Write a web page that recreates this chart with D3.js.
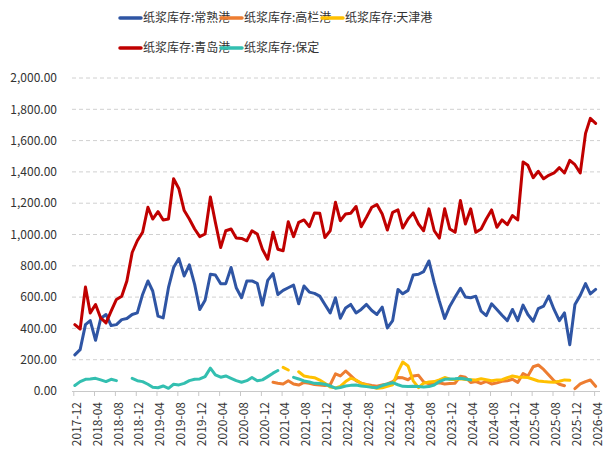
<!DOCTYPE html>
<html lang="zh">
  <head>
    <meta charset="UTF-8" />
    <title>纸浆库存</title>
    <script src="https://d3js.org/d3.v7.min.js"></script>
    <style>
      body { margin: 0; background: #fff; }
      text { font-family: "Noto Sans CJK SC", "Liberation Sans", sans-serif; }
    </style>
  </head>

  <body>
    <svg width="603" height="464"></svg>

    <script>
      // monthly data, 2017-12 .. 2026-04
      const firstMonth = new Date(2017, 11, 1);
      const lastMonth = new Date(2026, 3, 1);

      const seriesNames = [
        "纸浆库存:常熟港",
        "纸浆库存:高栏港",
        "纸浆库存:天津港",
        "纸浆库存:青岛港",
        "纸浆库存:保定"
      ];
      const seriesColors = ["#2f55a4", "#ed7d31", "#ffc000", "#c00000", "#33bfb0"];

      const changshu = [
        231, 264, 424, 450, 324, 463, 489, 418, 424, 456,
        463, 489, 499, 617, 703, 639, 478, 467, 660, 789,
        846, 735, 806, 681, 521, 580, 746, 741, 686, 686,
        789, 660, 596, 703, 703, 688, 549, 707, 750, 617,
        643, 660, 677, 557, 671, 632, 624, 606, 553, 499,
        596, 465, 531, 553, 499, 521, 553, 514, 489, 536,
        403, 450, 649, 621, 643, 741, 746, 763, 831, 692,
        574, 463, 542, 600, 656, 600, 596, 606, 510, 482,
        557, 521, 484, 450, 521, 450, 549, 489, 446, 527,
        542, 606, 521, 450, 499, 296, 553, 611, 686, 621,
        649
      ];

      const gaolan = [
        null, null, null, null, null, null, null, null, null, null,
        null, null, null, null, null, null, null, null, null, null,
        null, null, null, null, null, null, null, null, null, null,
        null, null, null, null, null, null, null, null, 56, 50,
        45, 66, 45, 38, 55, 50, 42, 38, 35, 40,
        110, 96, 128, 98, 66, 50, 42, 35, 30, 38,
        45, 60, 87, 84, 72, 96, 100, 58, 45, 48,
        52, 45, 48, 50, 94, 88, 55, 60, 48, 62,
        45, 52, 62, 65, 75, 55, 112, 95, 155, 166,
        138, 102, 66, 43, 34, null, 15, 45, 60, 70,
        30
      ];

      const tianjin = [
        null, null, null, null, null, null, null, null, null, null,
        null, null, null, null, null, null, null, null, null, null,
        null, null, null, null, null, null, null, null, null, null,
        null, null, null, null, null, null, null, null, null, null,
        151, 134, null, 123, 96, 90, 85, 70, 50, 25,
        20, 30, 60, 82, 70, 49, 39, 25, 17, 20,
        30, 40, 124, 185, 160, 65, 22, 50, 58, 60,
        71, 86, 75, 72, 78, 74, 72, 70, 78, 72,
        65, 70, 72, 85, 96, 90, 88, 86, 75, 64,
        60, 58, 56, 62, 71, 68, null, null, null, null,
        null
      ];

      const qingdao = [
        424, 396, 664, 499, 553, 467, 435, 510, 585, 606,
        703, 885, 960, 1014, 1174, 1099, 1146, 1093, 1099, 1356,
        1292, 1153, 1099, 1035, 986, 1003, 1239, 1078, 917, 1024,
        1035, 977, 975, 960, 1024, 1003, 906, 842, 1014, 906,
        896, 1082, 986, 1078, 1093, 1050, 1138, 1136, 981, 1024,
        1206, 1088, 1131, 1136, 1179, 1050, 1110, 1174, 1191, 1131,
        1029, 1142, 1157, 1041, 1099, 1138, 1067, 1024, 1164, 1024,
        977, 1164, 1035, 1014, 1217, 1067, 1164, 1014, 1035, 1099,
        1157, 1046, 1093, 1063, 1121, 1093, 1464, 1442, 1363, 1404,
        1356, 1378, 1393, 1427, 1393, 1474, 1446, 1393, 1646, 1742,
        1710
      ];

      const baoding = [
        35, 60, 75, 77, 81, 71, 60, 75, 66, null,
        null, 81, 66, 60, 43, 24, 21, 32, 17, 43,
        39, 49, 66, 75, 77, 92, 146, 103, 88, 96,
        81, 66, 56, 66, 86, 66, 71, 92, 114, 131,
        null, null, 87, 77, 64, 58, 49, 48, 43, 32,
        18, 22, 32, 36, 38, 32, 28, 24, 21, 35,
        45, 53, 40, 30, 28, 30, 28, 26, 28, 38,
        60, 75, 77, 78, 81, 76, 70, null, null, null,
        null, null, null, null, null, null, null, null, null, null,
        null, null, null, null, null, null, null, null, null, null,
        null
      ];

      const allSeries = [changshu, gaolan, tianjin, qingdao, baoding];

      const yTicks = [0, 200, 400, 600, 800, 1000, 1200, 1400, 1600, 1800, 2000];
      const xTickLabels = [
        "2017-12", "2018-04", "2018-08", "2018-12", "2019-04", "2019-08", "2019-12",
        "2020-04", "2020-08", "2020-12", "2021-04", "2021-08", "2021-12", "2022-04",
        "2022-08", "2022-12", "2023-04", "2023-08", "2023-12", "2024-04", "2024-08",
        "2024-12", "2025-04", "2025-08", "2025-12", "2026-04"
      ];

      const svg = d3.select("svg");
      const parseMonth = d3.timeParse("%Y-%m");
      const months = d3.timeMonth.range(firstMonth, d3.timeMonth.offset(lastMonth, 1));

      const x = d3.scaleTime()
        .domain([firstMonth, lastMonth])
        .range([73.3, 594.1]);

      const y = d3.scaleLinear()
        .domain([0, 2000])
        .range([391, 78]);

      // grid
      svg.append("g")
        .selectAll("line")
        .data(yTicks.filter(d => d > 0))
        .enter()
        .append("line")
        .attr("x1", 72)
        .attr("x2", 600)
        .attr("y1", d => y(d))
        .attr("y2", d => y(d))
        .attr("stroke", "#d0d0d0")
        .attr("stroke-width", 1)
        .attr("stroke-dasharray", "4,3");

      // y labels
      const fmt = d3.format(",.2f");
      svg.append("g")
        .selectAll("text")
        .data(yTicks)
        .enter()
        .append("text")
        .attr("x", 57)
        .attr("y", d => y(d))
        .attr("dy", "0.35em")
        .attr("text-anchor", "end")
        .attr("font-size", 12)
        .attr("fill", "#333")
        .text(d => fmt(d));

      // x axis
      const xAxis = d3.axisBottom(x)
        .tickValues(xTickLabels.map(parseMonth))
        .tickSize(5)
        .tickFormat(d3.timeFormat("%Y-%m"));

      const gx = svg.append("g")
        .attr("transform", "translate(0,391)")
        .call(xAxis);
      gx.select(".domain").attr("stroke", "#c8c8c8").attr("d", "M72,0.5H600");
      gx.selectAll(".tick line").attr("stroke", "#c8c8c8");
      gx.selectAll(".tick text")
        .attr("font-size", 12)
        .attr("fill", "#333")
        .attr("font-family", "'Liberation Sans', Arial, sans-serif")
        .attr("text-anchor", "end")
        .attr("transform", "translate(3,0) rotate(-90)")
        .attr("x", -11)
        .attr("y", 0)
        .attr("dy", "0.35em");

      // lines
      const line = d3.line()
        .defined(d => d.v != null)
        .x(d => x(d.date))
        .y(d => y(d.v));

      allSeries.forEach(function (vals, k) {
        const pts = months.map(function (m, i) {
          return { date: new Date(m.getFullYear(), m.getMonth(), 10), v: vals[i] };
        });
        svg.append("path")
          .datum(pts)
          .attr("fill", "none")
          .attr("stroke", seriesColors[k])
          .attr("stroke-width", 3)
          .attr("stroke-linejoin", "round")
          .attr("stroke-linecap", "round")
          .attr("d", line);
      });

      // legend
      const legendPos = [[120, 18], [221, 18], [322, 18], [120, 48], [221, 48]];
      const legend = svg.append("g")
        .selectAll("g")
        .data(seriesNames)
        .enter()
        .append("g")
        .attr("transform", (d, i) => `translate(${legendPos[i][0]},${legendPos[i][1]})`);

      legend.append("line")
        .attr("x1", 0)
        .attr("x2", 21)
        .attr("stroke", (d, i) => seriesColors[i])
        .attr("stroke-width", 3.5)
        .attr("stroke-linecap", "round");

      legend.append("text")
        .attr("x", 23)
        .attr("dy", "0.35em")
        .attr("font-size", 12)
        .attr("fill", "#333")
        .text(d => d);
    </script>
  </body>
</html>
